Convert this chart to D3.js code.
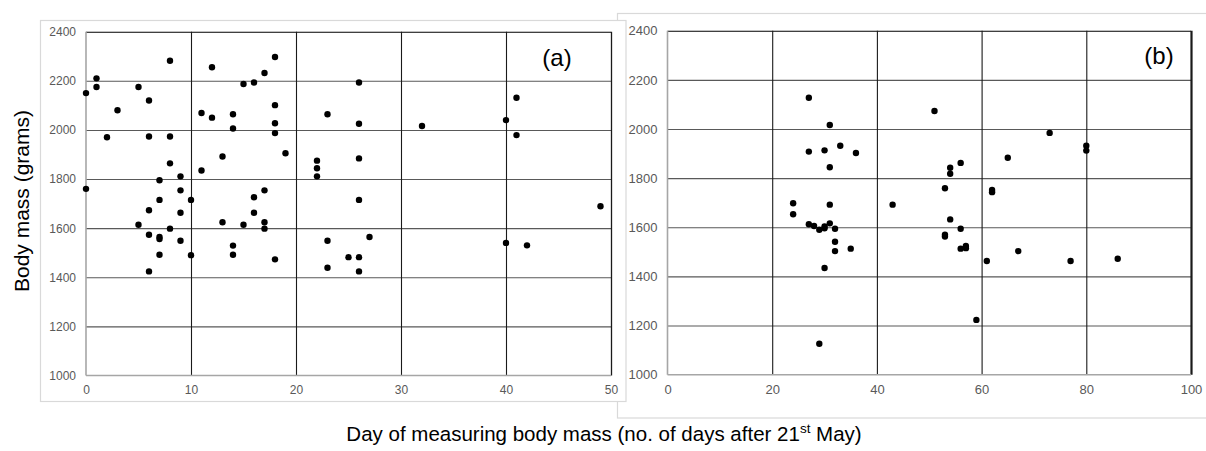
<!DOCTYPE html>
<html><head><meta charset="utf-8">
<script src="https://cdn.jsdelivr.net/npm/d3@7"></script>
<style>
body{margin:0;background:#fff;}
text{font-family:"Liberation Sans",Arial,sans-serif;}
</style></head>
<body><svg id="c" width="1206" height="451"></svg>
<script>
// Panel (a) data: day, body mass (g)
const daysA = [0,1,1,3,2,5,6,6,8,8,8,9,7,9,0,11,11,12,12,13,14,14,15,16,17,18,18,18,18,19,22,22,22,17,
  26,23,26,32,40,41,41,26,
  6,7,9,10,5,6,7,7,7,8,9,10,6,13,14,14,15,16,16,17,17,18,
  26,23,27,25,26,23,26,40,42,49];
const massA = [2150,2210,2175,2080,1970,2175,2120,1973,2282,1973,1864,1811,1795,1754,1760,2069,1835,2255,2050,1892,2064,2006,2187,2193,2232,2297,2101,2027,1987,1905,1875,1844,1811,1754,
  2193,2064,2025,2016,2040,2131,1979,1884,
  1673,1715,1663,1715,1614,1573,1564,1556,1492,1598,1549,1490,1424,1624,1529,1492,1614,1726,1663,1624,1598,1473,
  1715,1549,1564,1482,1482,1439,1424,1540,1530,1689];
// Panel (b) data
const daysB = [27,31,27,30,33,36,31,51,54,54,56,53,62,62,65,73,80,80,
  24,24,31,43,27,28,29,30,30,31,32,32,32,35,30,29,
  54,56,53,53,56,57,57,61,67,77,86,59];
const massB = [2127,2016,1908,1913,1932,1902,1844,2073,1842,1818,1862,1759,1752,1743,1883,1984,1932,1912,
  1698,1653,1692,1692,1612,1605,1590,1603,1596,1616,1594,1541,1503,1513,1434,1126,
  1632,1594,1570,1562,1513,1524,1515,1463,1503,1463,1472,1223];
const yTicks = [1000,1200,1400,1600,1800,2000,2200,2400];
const xTicksA = [0,10,20,30,40,50];
const xTicksB = [0,20,40,60,80,100];
const yTitle = "Body mass (grams)";
const labelA = "(a)", labelB = "(b)";

const svg = d3.select("#c");
svg.append("rect").attr("width",1206).attr("height",451).attr("fill","#fff");

// containers
svg.append("rect").attr("x",617.5).attr("y",13.5).attr("width",600).attr("height",404.5)
  .attr("fill","#fff").attr("stroke","#d9d9d9").attr("stroke-width",1.2);
svg.append("rect").attr("x",40.5).attr("y",20.5).attr("width",585.5).attr("height",381)
  .attr("fill","#fff").attr("stroke","#d9d9d9").attr("stroke-width",1.2);

function panel(cfg){
  const x = d3.scaleLinear().domain(cfg.xd).range(cfg.xr);
  const y = d3.scaleLinear().domain([1000,2400]).range(cfg.yr);
  const g = svg.append("g");
  const [x0,x1] = cfg.xr, [y0,y1] = cfg.yr;
  // horizontal grid
  g.append("g").attr("transform",`translate(${x0},0)`)
    .call(d3.axisLeft(y).tickValues(yTicks).tickSize(-(x1-x0)).tickFormat(d3.format("d")).tickPadding(10))
    .call(a=>{a.select(".domain").remove();
      a.selectAll("line").attr("stroke",d=>d===2400?"#000":"#595959").attr("stroke-width",d=>d===1000?0:1.1);
      a.selectAll("text").attr("fill","#595959").attr("font-size",cfg.fs).attr("font-family","Liberation Sans, Arial, sans-serif");});
  // vertical grid
  g.append("g").attr("transform",`translate(0,${y0})`)
    .call(d3.axisBottom(x).tickValues(cfg.xt).tickSize(-(y0-y1)).tickFormat(d3.format("d")).tickPadding(10))
    .call(a=>{a.select(".domain").remove();
      a.selectAll("line").attr("stroke","#1a1a1a").attr("stroke-width",d=>d===cfg.xd[0]?0:(d===cfg.xd[1]?cfg.rw:1.1));
      a.selectAll("text").attr("fill","#595959").attr("font-size",cfg.fs).attr("font-family","Liberation Sans, Arial, sans-serif");});
  // axis lines
  g.append("line").attr("x1",x0).attr("x2",x0).attr("y1",y1).attr("y2",y0).attr("stroke","#a6a6a6").attr("stroke-width",1.6);
  g.append("line").attr("x1",x0).attr("x2",x1).attr("y1",y0).attr("y2",y0).attr("stroke","#a6a6a6").attr("stroke-width",1.6);
  // points
  g.append("g").selectAll("circle").data(cfg.dx.map((d,i)=>[d,cfg.dy[i]])).join("circle")
    .attr("cx",d=>x(d[0])).attr("cy",d=>y(d[1])).attr("r",3.2).attr("fill","#000");
  g.append("text").attr("x",cfg.lx).attr("y",cfg.ly).attr("text-anchor","middle")
    .attr("font-size",24).attr("fill","#000").text(cfg.label);
}

panel({xd:[0,50], xr:[86,611], yr:[375.5,31.7], xt:xTicksA, dx:daysA, dy:massA, label:labelA, lx:557, ly:66, fs:12, rw:1.3});
panel({xd:[0,100], xr:[667.5,1191], yr:[374.7,30.7], xt:xTicksB, dx:daysB, dy:massB, label:labelB, lx:1159, ly:64, fs:13, rw:2.2});

// y title
svg.append("text").attr("transform","translate(29,201) rotate(-90)").attr("text-anchor","middle")
  .attr("font-size",21).attr("fill","#000").text(yTitle);
// x title with superscript
const xt = svg.append("text").attr("x",604).attr("y",441).attr("text-anchor","middle").attr("font-size",20.5).attr("fill","#000");
xt.append("tspan").text("Day of measuring body mass (no. of days after 21");
xt.append("tspan").attr("font-size",13.5).attr("dy",-8).text("st");
xt.append("tspan").attr("dy",8).text(" May)");
</script></body></html>
